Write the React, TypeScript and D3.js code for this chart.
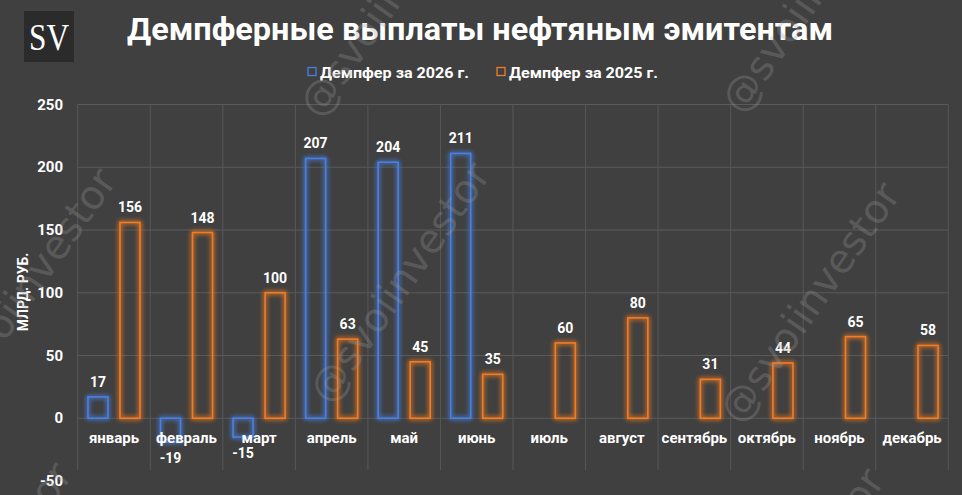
import * as d3 from "d3";

const months = ["январь", "февраль", "март", "апрель", "май", "июнь", "июль", "август", "сентябрь", "октябрь", "ноябрь", "декабрь"];
const damper2026 = [17, -19, -15, 207, 204, 211, null, null, null, null, null, null];
const damper2025 = [156, 148, 100, 63, 45, 35, 60, 80, 31, 44, 65, 58];
const yTicks = [250, 200, 150, 100, 50, 0, -50];
const gridTicks = [250, 200, 150, 100, 50, 0];
const seriesNames = ["Демпфер за 2026 г.", "Демпфер за 2025 г."];
const seriesColors = ["#4a7fe0", "#f07b28"];

const W = 962;
const H = 495;
const FONT = "Roboto, 'DejaVu Sans', sans-serif";

// watermark starting points (baseline start of "@svoiinvestor")
const watermarks = [
  [320, 120], [742, 116], [-44, 412], [330, 406], [740, 426], [-88, 706], [724, 712],
];

export default function App() {
  const x = d3.scaleBand().domain(months).range([77.7, 948.3]).padding(0);
  const inner = d3
    .scaleBand()
    .domain(["2026", "2025"])
    .range([0, x.bandwidth()])
    .paddingInner(0.375)
    .paddingOuter(0.32);
  const y = d3.scaleLinear().domain([-50, 250]).range([481, 104.5]);

  const bars: { key: string; month: string; v: number; color: string }[] = [];
  months.forEach((m, i) => {
    if (damper2026[i] != null) bars.push({ key: "2026", month: m, v: damper2026[i] as number, color: seriesColors[0] });
    bars.push({ key: "2025", month: m, v: damper2025[i], color: seriesColors[1] });
  });

  return (
    <svg width={W} height={H} style={{ position: "absolute", left: 0, top: 0, display: "block" }}>
      <defs>
        <filter id="glow" x="-50%" y="-50%" width="200%" height="200%">
          <feGaussianBlur in="SourceGraphic" stdDeviation="2.5" result="blur" />
          <feMerge>
            <feMergeNode in="blur" />
            <feMergeNode in="blur" />
            <feMergeNode in="SourceGraphic" />
          </feMerge>
        </filter>
      </defs>
      <rect width={W} height={H} fill="#404040" />

      {/* gridlines */}
      {gridTicks.map((t) => (
        <line key={t} x1={77.7} x2={948.3} y1={y(t)} y2={y(t)} stroke="#5a5a5a" strokeWidth={1} />
      ))}
      {[...months.map((m) => x(m) as number), 948.3].map((gx, i) => (
        <line key={i} x1={gx} x2={gx} y1={y(250)} y2={470} stroke="#575757" strokeWidth={1} />
      ))}

      {/* y axis labels */}
      {yTicks.map((t) => (
        <text key={t} x={63} y={y(t) + 5} textAnchor="end" fill="#fff" fontFamily={FONT} fontWeight="bold" fontSize={15}>
          {t}
        </text>
      ))}
      <text
        transform="translate(28,292) rotate(-90)"
        textAnchor="middle"
        fill="#fff"
        fontFamily={FONT}
        fontWeight="bold"
        fontSize={14}
      >
        МЛРД. РУБ.
      </text>

      {/* bars */}
      {bars.map((b) => {
        const bx = (x(b.month) as number) + (inner(b.key) as number);
        const top = y(Math.max(b.v, 0));
        const h = Math.abs(y(b.v) - y(0));
        return (
          <g key={b.key + b.month}>
            <rect x={bx} y={top} width={inner.bandwidth()} height={h} fill="none" stroke={b.color} strokeWidth={1.6} filter="url(#glow)" />
            <text
              x={bx + inner.bandwidth() / 2}
              y={b.v >= 0 ? y(b.v) - 10 : y(b.v) + 21}
              textAnchor="middle"
              fill="#fff"
              fontFamily={FONT}
              fontWeight="bold"
              fontSize={14}
            >
              {b.v}
            </text>
          </g>
        );
      })}

      {/* category labels */}
      {months.map((m) => (
        <text
          key={m}
          x={(x(m) as number) + x.bandwidth() / 2}
          y={443}
          textAnchor="middle"
          fill="#fff"
          fontFamily={FONT}
          fontWeight="bold"
          fontSize={15}
        >
          {m}
        </text>
      ))}

      {/* legend */}
      {seriesNames.map((s, i) => {
        const lx = [308, 497][i];
        return (
          <g key={s}>
            <rect x={lx} y={67.5} width={8} height={8} fill="none" stroke={seriesColors[i]} strokeWidth={1.3} />
            <text x={lx + 12} y={78} fill="#fff" fontFamily={FONT} fontWeight="bold" fontSize={14.5} textLength={149} lengthAdjust="spacingAndGlyphs">
              {s}
            </text>
          </g>
        );
      })}

      {/* title */}
      <text x={127} y={40} fill="#fff" fontFamily={FONT} fontWeight="bold" fontSize={31} textLength={706} lengthAdjust="spacingAndGlyphs">
        Демпферные выплаты нефтяным эмитентам
      </text>

      {/* logo */}
      <rect x={24} y={11} width={50} height={51} fill="#2b2b2b" />
      <text x={49} y={50} textAnchor="middle" fill="#fff" fontFamily="'Liberation Serif', serif" fontSize={38} textLength={40} lengthAdjust="spacingAndGlyphs">
        SV
      </text>

      {/* watermarks */}
      {watermarks.map(([wx, wy], i) => (
        <text
          key={i}
          transform={`translate(${wx},${wy}) rotate(-55)`}
          fill="#9a9a9a"
          fillOpacity={0.3}
          fontFamily="'DejaVu Sans', sans-serif"
          fontSize={40}
        >
          @svoiinvestor
        </text>
      ))}
    </svg>
  );
}
